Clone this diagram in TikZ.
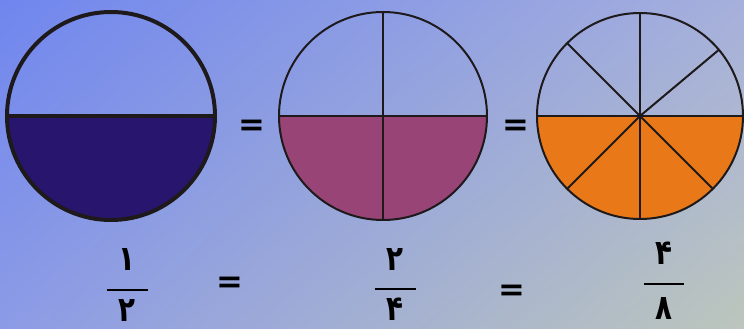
\documentclass[tikz,border=0pt]{standalone}
\usepackage{fontspec}
\usetikzlibrary{shadings,calc}
\newfontfamily\farsi[Script=Arabic,BoldFont={DejaVu Sans Bold}]{DejaVu Sans}
\definecolor{bgTL}{HTML}{7086EE}
\definecolor{bgTR}{HTML}{A6B0DC}
\definecolor{bgBL}{HTML}{8C9BE6}
\definecolor{bgBR}{HTML}{BCC6BC}
\definecolor{halfnavy}{HTML}{27156E}
\definecolor{quartermauve}{HTML}{984477}
\definecolor{eighthorange}{HTML}{E87818}
\definecolor{rim}{HTML}{1E1A1C}
\tikzset{
  digit/.style={font=\farsi\bfseries\fontsize{26}{26}\selectfont, inner sep=0pt, xscale=0.8, transform shape},
  eqsign/.style={font=\farsi\bfseries\fontsize{24}{24}\selectfont, inner sep=0pt},
  fracbar/.style={draw=black, line width=1.2pt},
  thin rim/.style={draw=rim, line width=1.5pt},
  thick rim/.style={draw=rim, line width=3pt}
}

\begin{document}
\begin{tikzpicture}[x=0.75pt, y=0.75pt]
  \useasboundingbox (0,0) rectangle (744,329);
  \shade[upper left=bgTL, upper right=bgTR, lower left=bgBL, lower right=bgBR]
    (0,0) rectangle (744,329);

  \coordinate (half) at (111,213);
  \coordinate (quarter) at (383,213);
  \coordinate (eighth) at (640,213);

  % Half
  \fill[halfnavy] (half) ++(-104,0) arc[start angle=180, end angle=360, radius=104] -- cycle;
  \draw[thick rim] (half) circle[radius=104];
  \draw[thick rim] ($(half)+(-104,0)$) -- ($(half)+(104,0)$);

  % Quarters
  \fill[quartermauve] (quarter) ++(-104,0) arc[start angle=180, end angle=360, radius=104] -- cycle;
  \draw[thin rim] (quarter) circle[radius=104];
  \draw[thin rim] ($(quarter)+(-104,0)$) -- ($(quarter)+(104,0)$);
  \draw[thin rim] ($(quarter)+(0,-104)$) -- ($(quarter)+(0,104)$);

  % Eighths
  \fill[eighthorange] (eighth) ++(-103,0) arc[start angle=180, end angle=360, radius=103] -- cycle;
  \draw[thin rim] (eighth) circle[radius=103];
  \foreach \a in {0,40,90,135,180,225,270,315}
    \draw[thin rim] (eighth) -- ++(\a:103);

  % Equals between circles
  \node[eqsign] (eqA) at (252,201) {=};
  \node[eqsign] (eqB) at (516,201) {=};

  % Fractions
  \node[digit] (numA) at (127,70) {۱};
  \draw[fracbar] (107,39) -- (148,39);
  \node[digit] (denA) at (127,19) {۲};

  \node[eqsign] (eqC) at (230,44) {=};

  \node[digit] (numB) at (395,70) {۲};
  \draw[fracbar] (375,40) -- (416,40);
  \node[digit] (denB) at (395,20) {۴};

  \node[eqsign] (eqD) at (512,36) {=};

  \node[digit] (numC) at (664,76) {۴};
  \draw[fracbar] (644,45) -- (684,45);
  \node[digit] (denC) at (664,21) {۸};
\end{tikzpicture}
\end{document}
